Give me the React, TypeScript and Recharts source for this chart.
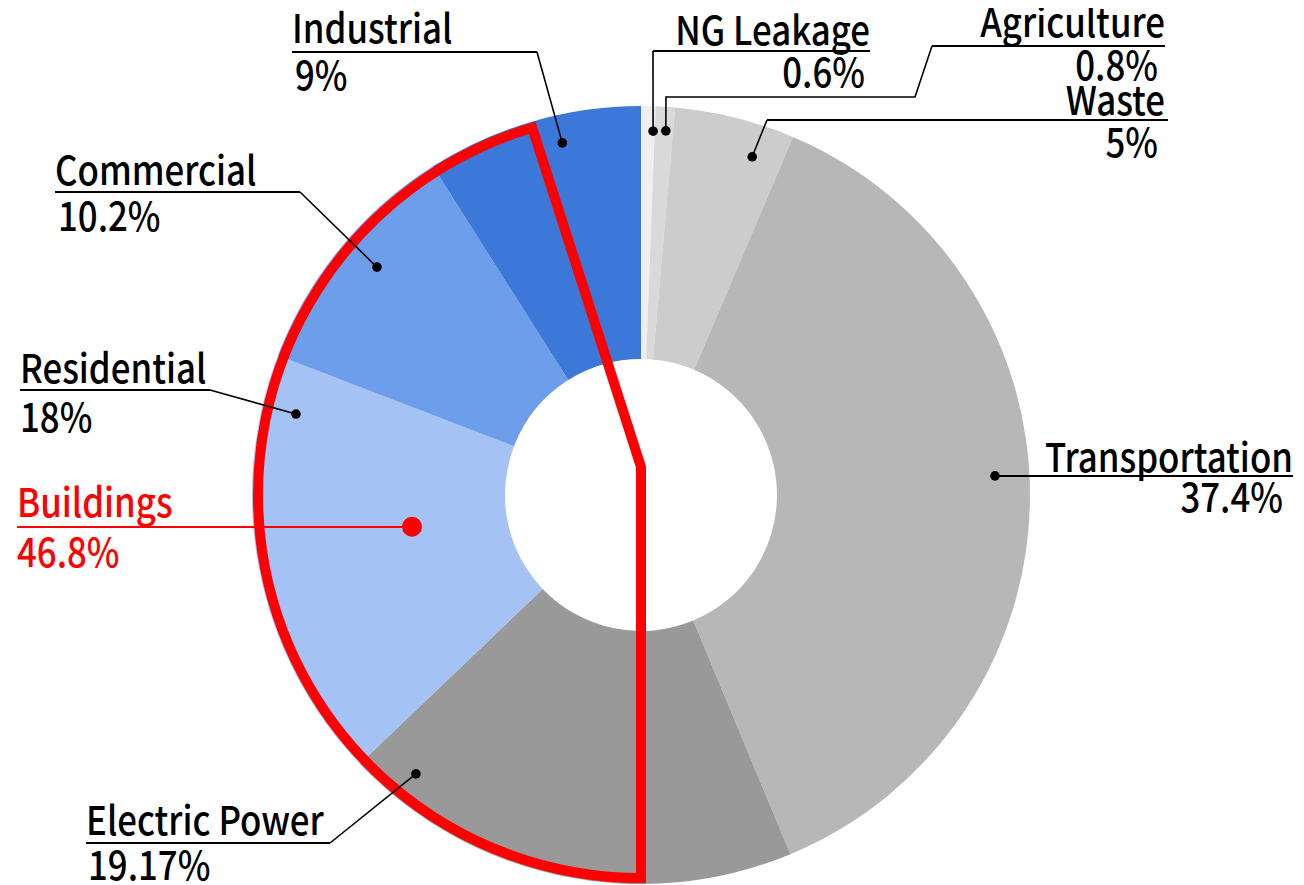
import React from 'react';
import { PieChart, Pie, Cell } from 'recharts';

// ---- data ----
const categories = ['NG Leakage', 'Agriculture', 'Waste', 'Transportation', 'Electric Power', 'Residential', 'Commercial', 'Industrial'];
const shares = [0.6, 0.8, 5, 37.4, 19.17, 18, 10.2, 9];
const shareLabels = ['0.6%', '0.8%', '5%', '37.4%', '19.17%', '18%', '10.2%', '9%'];
const groupName = 'Buildings';
const groupShare = 46.8;
const groupShareLabel = '46.8%';

// ---- styles ----
const colors = ['#efefef', '#d9d9d9', '#cccccc', '#b7b7b7', '#999999', '#a4c2f4', '#6d9eeb', '#3c78d8'];
const FONT = "'Noto Sans CJK JP', 'Noto Sans', sans-serif";
const FONT_SIZE = 40;
const FONT_WEIGHT = 500;
const TEXT_SCALE_X = 0.87;
const RED = '#ff0000';

const data = categories.map((name, i) => ({ name, value: shares[i], label: shareLabels[i] }));
const groupData = [{ name: groupName, value: groupShare, label: groupShareLabel }];

// label layout (annotation positions): dot given in polar form (deg clockwise from 12 o'clock, radius)
type Layout = {
  anchor: 'start' | 'end';
  nameX: number; nameY: number;
  pctX: number; pctY: number;
  ulX1: number; ulX2: number; ulY: number;
  elbowX: number;
  bends: number[][];
  dotA: number; dotR: number;
};
const LAYOUT: Record<string, Layout> = {
  'NG Leakage': { anchor: 'end', nameX: 862, nameY: 37, pctX: 857, pctY: 79, ulX1: 645, ulX2: 862, ulY: 43, elbowX: 645, bends: [], dotA: 1.9, dotR: 364 },
  'Agriculture': { anchor: 'end', nameX: 1157, nameY: 29, pctX: 1150, pctY: 72, ulX1: 924, ulX2: 1157, ulY: 38, elbowX: 924, bends: [[907, 89], [658, 89]], dotA: 3.9, dotR: 365 },
  'Waste': { anchor: 'end', nameX: 1157, nameY: 107, pctX: 1150, pctY: 149, ulX1: 759, ulX2: 1160, ulY: 112, elbowX: 759, bends: [], dotA: 18.2, dotR: 356 },
  'Transportation': { anchor: 'end', nameX: 1285, nameY: 464, pctX: 1275, pctY: 504, ulX1: 987, ulX2: 1285, ulY: 468, elbowX: 987, bends: [], dotA: 86.9, dotR: 354.5 },
  'Electric Power': { anchor: 'start', nameX: 78, nameY: 827, pctX: 80, pctY: 872, ulX1: 78, ulX2: 322, ulY: 835, elbowX: 322, bends: [], dotA: 218.9, dotR: 358.4 },
  'Residential': { anchor: 'start', nameX: 12, nameY: 375, pctX: 12, pctY: 424, ulX1: 12, ulX2: 202, ulY: 382, elbowX: 202, bends: [], dotA: 283.2, dotR: 354.4 },
  'Commercial': { anchor: 'start', nameX: 47, nameY: 177, pctX: 50, pctY: 223, ulX1: 47, ulX2: 292, ulY: 184, elbowX: 292, bends: [], dotA: 310.8, dotR: 348.8 },
  'Industrial': { anchor: 'start', nameX: 284, nameY: 35, pctX: 287, pctY: 82, ulX1: 284, ulX2: 529, ulY: 44, elbowX: 529, bends: [], dotA: 347.4, dotR: 360.8 },
  'Buildings': { anchor: 'start', nameX: 9, nameY: 509, pctX: 9, pctY: 559, ulX1: 9, ulX2: 404, ulY: 519, elbowX: 404, bends: [], dotA: 262.1, dotR: 231.2 },
};

const RAD = Math.PI / 180;
const clockPoint = (cx: number, cy: number, r: number, deg: number) => ({ x: cx + r * Math.sin(deg * RAD), y: cy - r * Math.cos(deg * RAD) });
const rcPoint = (cx: number, cy: number, r: number, angle: number) => ({ x: cx + r * Math.cos(-angle * RAD), y: cy + r * Math.sin(-angle * RAD) });

const Txt = ({ x, y, anchor, color, children }: any) => (
  <text transform={`translate(${x},${y}) scale(${TEXT_SCALE_X},1)`} x={0} y={0} textAnchor={anchor}
    fontFamily={FONT} fontSize={FONT_SIZE} fontWeight={FONT_WEIGHT} fill={color}>{children}</text>
);

const Annotation = ({ cx, cy, name, pct, color, dotSize, lineW }: any) => {
  const L = LAYOUT[name];
  const dot = clockPoint(cx, cy, L.dotR, L.dotA);
  const pts = [[L.elbowX, L.ulY], ...L.bends, [dot.x, dot.y]];
  return (
    <g>
      <line x1={L.ulX1} x2={L.ulX2} y1={L.ulY} y2={L.ulY} stroke={color} strokeWidth={2} />
      <polyline points={pts.map((p) => p.join(',')).join(' ')} fill="none" stroke={color} strokeWidth={lineW} />
      <circle cx={dot.x} cy={dot.y} r={dotSize} fill={color} />
      <Txt x={L.nameX} y={L.nameY} anchor={L.anchor} color={color}>{name}</Txt>
      <Txt x={L.pctX} y={L.pctY} anchor={L.anchor} color={color}>{pct}</Txt>
    </g>
  );
};

const renderLabel = (props: any) => {
  const { cx, cy, index } = props;
  return <Annotation key={`lab-${index}`} cx={cx} cy={cy} name={categories[index]} pct={shareLabels[index]} color="#000" dotSize={4.8} lineW={1.6} />;
};

const renderGroup = (props: any) => {
  const { cx, cy, startAngle, endAngle, outerRadius } = props;
  const s = rcPoint(cx, cy, outerRadius, startAngle);
  const e = rcPoint(cx, cy, outerRadius, endAngle);
  const large = Math.abs(endAngle - startAngle) > 180 ? 1 : 0;
  const d = `M${s.x},${s.y} A${outerRadius},${outerRadius} 0 ${large} 1 ${e.x},${e.y} L${cx},${cy - 28} Z`;
  return (
    <g key="group">
      <path d={d} fill="none" stroke={RED} strokeWidth={10} strokeLinejoin="miter" />
      <Annotation cx={cx} cy={cy} name={groupName} pct={groupShareLabel} color={RED} dotSize={10} lineW={2.5} />
    </g>
  );
};

export default function App() {
  return (
    <PieChart width={1288} height={877} margin={{ top: 0, right: 0, bottom: 0, left: 0 }} style={{ overflow: 'visible' }}>
      <Pie data={data} dataKey="value" nameKey="name" cx={633} cy={487} innerRadius={136} outerRadius={389}
        startAngle={90} endAngle={-270} stroke="none" isAnimationActive={false} label={false}>
        {data.map((d, i) => <Cell key={d.name} fill={colors[i]} stroke="none" />)}
      </Pie>
      <Pie data={groupData} dataKey="value" nameKey="name" cx={633} cy={487} innerRadius={0} outerRadius={383}
        startAngle={270} endAngle={106.5} fill="none" stroke="none" isAnimationActive={false}
        label={renderGroup} labelLine={false} />
      <Pie data={data} dataKey="value" nameKey="name" cx={633} cy={487} innerRadius={136} outerRadius={389}
        startAngle={90} endAngle={-270} fill="none" stroke="none" isAnimationActive={false}
        label={renderLabel} labelLine={false} />
    </PieChart>
  );
}
